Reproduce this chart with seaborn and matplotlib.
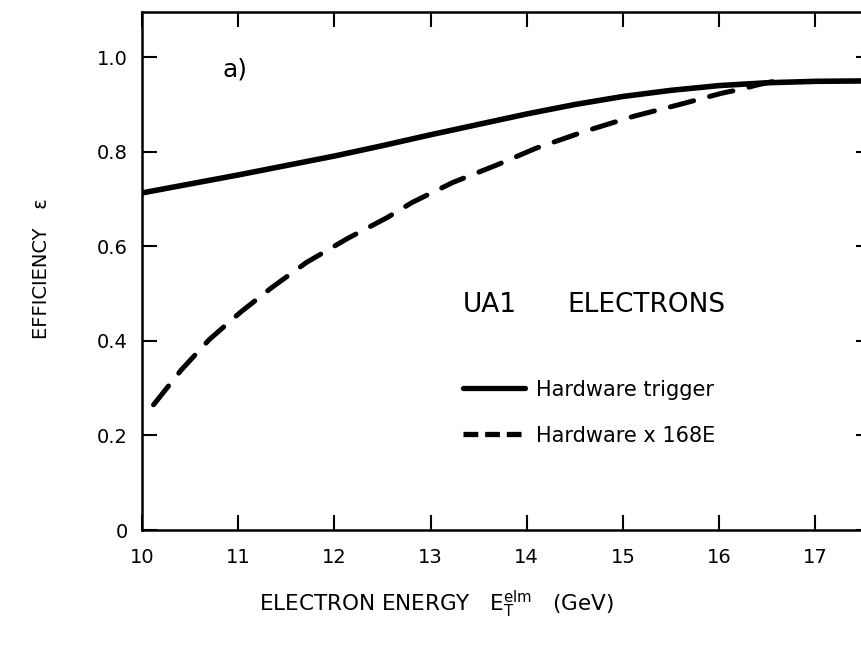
import matplotlib
matplotlib.use("Agg")
import matplotlib.pyplot as plt
import seaborn as sns
import pandas as pd

# ---- data ----
hw_x = [10.0, 11.0, 12.0, 12.5, 13.0, 13.5, 14.0, 14.5, 15.0, 15.5, 16.0, 16.5, 17.0, 17.58]
hw_y = [0.713, 0.751, 0.791, 0.813, 0.836, 0.858, 0.880, 0.900, 0.917, 0.930, 0.940, 0.946, 0.949, 0.950]

hw168_x = [10.12, 10.41, 10.70, 11.02, 11.35, 11.71, 12.14, 12.55, 12.81, 13.23, 13.70, 14.09, 14.60, 15.11, 15.59, 15.79, 16.03, 16.22, 16.41, 16.57]
hw168_y = [0.265, 0.339, 0.403, 0.460, 0.513, 0.566, 0.617, 0.661, 0.693, 0.735, 0.773, 0.807, 0.843, 0.875, 0.900, 0.911, 0.924, 0.932, 0.942, 0.949]

series_names = ["Hardware trigger", "Hardware x 168E"]
x_ticks = [10, 11, 12, 13, 14, 15, 16, 17]
y_ticks = [0, 0.2, 0.4, 0.6, 0.8, 1.0]
y_tick_labels = ["0", "0.2", "0.4", "0.6", "0.8", "1.0"]

df = pd.concat([
    pd.DataFrame({"E": hw_x, "eff": hw_y, "series": series_names[0]}),
    pd.DataFrame({"E": hw168_x, "eff": hw168_y, "series": series_names[1]}),
], ignore_index=True)

sns.set_theme(style="ticks")
plt.rcParams["font.family"] = ["DejaVu Sans"]
plt.rcParams["mathtext.fontset"] = "dejavusans"
for k in ["text.color", "axes.labelcolor", "xtick.color", "ytick.color", "axes.edgecolor"]:
    plt.rcParams[k] = "black"

fig = plt.figure(figsize=(8.62, 6.48), dpi=100)
ax = fig.add_axes([142 / 862, 0.182, 729 / 862, 0.799])

sns.lineplot(data=df, x="E", y="eff", hue="series", style="series",
             palette=["black", "black"], dashes=[(None, None), (5.3, 2.3)],
             linewidth=3.8, ax=ax, sort=False, legend=True)

# enforce the long-dash pattern of the second curve
for ln in ax.lines:
    if len(ln.get_xdata()) == len(hw168_x):
        ln.set_linewidth(3.6)
        ln.set_dashes([4.8, 3.3])
        ln.set_dash_capstyle("round")
    elif len(ln.get_xdata()) == len(hw_x):
        ln.set_linewidth(4.0)

ax.set_xlim(10, 17.58)
ax.set_ylim(0, 1.095)
ax.set_xticks(x_ticks)
ax.set_yticks(y_ticks)
ax.set_yticklabels(y_tick_labels)
ax.tick_params(direction="in", length=11, width=1.5, top=True, right=True,
               labelsize=14, colors="black")
ax.tick_params(axis="y", pad=10)
ax.tick_params(axis="x", pad=13)
for s in ax.spines.values():
    s.set_linewidth(1.8)
    s.set_color("black")

ax.set_xlabel("")
ax.set_ylabel("")
fig.text(0.048, 0.586, "EFFICIENCY   \u03b5", rotation=90, ha="center", va="center", fontsize=14)
fig.text(0.507, 0.068, r"ELECTRON ENERGY   $\mathrm{E}_{\mathrm{T}}^{\mathrm{elm}}$   (GeV)",
         ha="center", va="center", fontsize=15.5)

ax.text(10.84, 0.975, "a)", fontsize=18, ha="left", va="center")
ax.text(13.33, 0.477, "UA1", fontsize=19, ha="left", va="center")
ax.text(14.42, 0.477, "ELECTRONS", fontsize=19, ha="left", va="center")

handles, labels = ax.get_legend_handles_labels()
leg = ax.legend(handles, labels, loc="center left", bbox_to_anchor=(0.440, 0.227),
                frameon=False, fontsize=15, handlelength=3.0, handletextpad=0.5,
                labelspacing=1.25, borderpad=0, borderaxespad=0)
for ln in leg.get_lines():
    ln.set_linewidth(3.8)
leg.get_lines()[1].set_dashes([2.8, 1.3])

fig.savefig("out.png", dpi=100)
